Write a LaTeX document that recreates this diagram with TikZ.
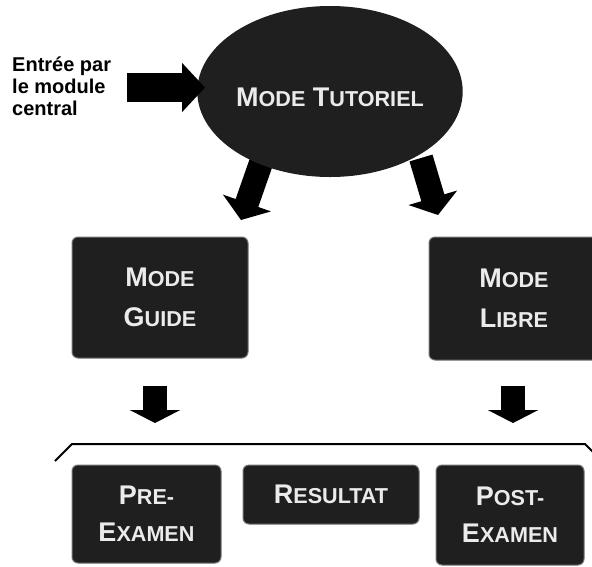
\documentclass[tikz,border=0pt]{standalone}
\usepackage{fontspec}
\setmainfont{Liberation Sans}
\usetikzlibrary{shapes.geometric,arrows.meta}
\newcommand\smcap[2]{#1{\fontsize{21.6pt}{21.6pt}\selectfont #2}}
\begin{document}
\begin{tikzpicture}[x=1pt,y=-1pt,
  darkfill/.style={fill=black!88},
  modebox/.style={rectangle, rounded corners=6pt, darkfill, draw=black!55,
    line width=1pt, text=black!8, align=center, inner sep=0pt},
  bigfont/.style={font=\fontsize{27pt}{40pt}\selectfont\bfseries},
  blockarrow/.style={draw=black, line width=#1},
]
\useasboundingbox (0,0) rectangle (592,566);

% arrow end points
\coordinate (inS) at (127,87.5);
\coordinate (inE) at (205,87.5);
\coordinate (dlS) at (262,160);
\coordinate (dlE) at (241,220);
\coordinate (drS) at (421,158);
\coordinate (drE) at (438,215);
\coordinate (vlS) at (155,386);
\coordinate (vlE) at (155,423);
\coordinate (vrS) at (513,386);
\coordinate (vrE) at (513,423);
\coordinate (brA) at (55,461);
\coordinate (brB) at (72,444);
\coordinate (brC) at (585,444);
\coordinate (brD) at (594,453);

% diagonal arrows (behind the ellipse)
\draw[blockarrow=24pt, -{Triangle[length=18pt,width=50pt]}] (dlS) -- (dlE);
\draw[blockarrow=24pt, -{Triangle[length=18pt,width=50pt]}] (drS) -- (drE);

% central ellipse
\node[ellipse, darkfill, minimum width=234pt, minimum height=171pt, inner sep=0pt,
      text=black!8, bigfont, text height=31pt] (tut) at (330,91.5)
  {\smcap{M}{ODE} \smcap{T}{UTORIEL}};

% entry text and arrow
\node[anchor=west, align=left, inner sep=0pt,
      font=\fontsize{20pt}{22pt}\selectfont\bfseries] (entree) at (12,86)
  {Entrée par\\le module\\central};
\draw[blockarrow=29pt, -{Triangle[length=23pt,width=48pt]}] (inS) -- (inE);

% mode boxes
\node[modebox, bigfont, minimum width=176pt, minimum height=121pt] (guide) at (160,297.5)
  {\smcap{M}{ODE}\\\smcap{G}{UIDE}};
\node[modebox, bigfont, minimum width=170pt, minimum height=123pt] (libre) at (514,298.5)
  {\smcap{M}{ODE}\\\smcap{L}{IBRE}};

% vertical arrows
\draw[blockarrow=24pt, -{Triangle[length=13pt,width=50pt]}] (vlS) -- (vlE);
\draw[blockarrow=24pt, -{Triangle[length=13pt,width=50pt]}] (vrS) -- (vrE);

% bracket
\draw[line width=2pt] (brA) -- (brB) -- (brC) -- (brD);

% bottom boxes
\node[modebox, font=\fontsize{27pt}{37pt}\selectfont\bfseries,
      minimum width=149pt, minimum height=98pt] (pre) at (146.5,514)
  {\smcap{P}{RE-}\\\smcap{E}{XAMEN}};
\node[modebox, bigfont, minimum width=176pt, minimum height=59pt] (res) at (331,494.5)
  {\smcap{R}{ESULTAT}};
\node[modebox, font=\fontsize{27pt}{37pt}\selectfont\bfseries,
      minimum width=148pt, minimum height=100pt] (post) at (510,515)
  {\smcap{P}{OST-}\\\smcap{E}{XAMEN}};
\end{tikzpicture}
\end{document}
